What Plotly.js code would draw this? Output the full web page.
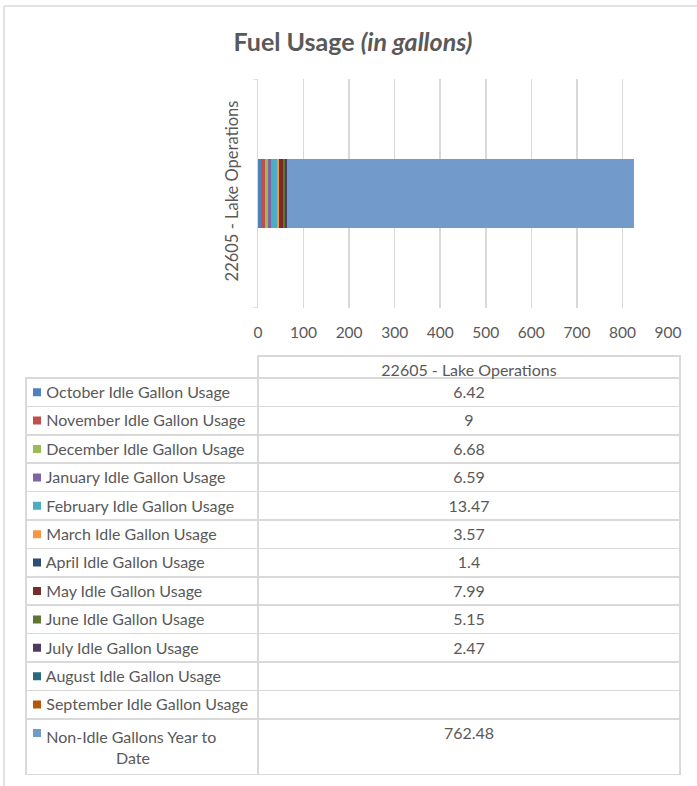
<!DOCTYPE html>
<html>
<head>
<meta charset="utf-8">
<script src="https://cdn.plot.ly/plotly-3.0.1.min.js"></script>
<style>html,body{margin:0;padding:0;background:#fff;}#chart{width:697px;height:786px;}</style>
</head>
<body>
<div id="chart"></div>
<script>
// ---- data ----
const categories = ["22605 - Lake Operations"];
const seriesNames = [
  "October Idle Gallon Usage",
  "November Idle Gallon Usage",
  "December Idle Gallon Usage",
  "January Idle Gallon Usage",
  "February Idle Gallon Usage",
  "March Idle Gallon Usage",
  "April Idle Gallon Usage",
  "May Idle Gallon Usage",
  "June Idle Gallon Usage",
  "July Idle Gallon Usage",
  "August Idle Gallon Usage",
  "September Idle Gallon Usage",
  "Non-Idle Gallons Year to Date"
];
const seriesValues = [6.42, 9, 6.68, 6.59, 13.47, 3.57, 1.4, 7.99, 5.15, 2.47, null, null, 762.48];
const xTickValues = [0, 100, 200, 300, 400, 500, 600, 700, 800, 900];

// ---- styles ----
const seriesColors = ["#4F81BD","#C0504D","#9BBB59","#8064A2","#4BACC6","#F79646",
                      "#2C4D75","#772C2A","#5F7530","#4D3B62","#276A7C","#B65708","#729ACA"];
const W = 697, H = 786;
const FONT = "Lato, 'Open Sans', sans-serif";
const TXT = "#595959";
const GRID = "#d9d9d9";
const NB = "\u00A0";
const ROW = 28.4;
const px = v => v / W;
const py = v => (H - v) / H;

// stacked bars
const traces = seriesNames.map((name, i) => ({
  type: "bar",
  orientation: "h",
  name: name,
  y: categories,
  x: [seriesValues[i]],
  marker: { color: seriesColors[i], line: { width: 0 } },
  hoverinfo: "skip",
  showlegend: false
}));

// legend keys of the data table, one per series row
traces.push({
  type: "scatter",
  mode: "markers",
  xaxis: "x2", yaxis: "y2",
  x: seriesNames.map(() => 0),
  y: seriesNames,
  marker: { symbol: "square", size: 8, color: seriesColors, line: { width: 0 } },
  hoverinfo: "skip",
  showlegend: false
});

// table labels: non-breaking spaces so plotly keeps each on one line
function labelFor(name) {
  const indent = NB.repeat(3);
  if (name === "Non-Idle Gallons Year to Date") {
    return indent + "Non-Idle Gallons Year to".split(" ").join(NB) + "<br>" + NB.repeat(20) + "Date";
  }
  return indent + name.split(" ").join(NB);
}

traces.push({
  type: "table",
  domain: { x: [px(26), px(680)], y: [py(780), py(356)] },
  columnwidth: [232, 422],
  header: {
    values: ["", categories[0]],
    align: ["left", "center"],
    height: 22,
    line: { color: ["rgba(0,0,0,0)", GRID], width: 1.5 },
    fill: { color: "rgba(0,0,0,0)" },
    font: { family: FONT, size: 16, color: TXT }
  },
  cells: {
    values: [
      seriesNames.map(labelFor),
      seriesValues.map(v => (v === null ? "" : String(v)))
    ],
    align: ["left", "center"],
    height: ROW,
    line: { color: GRID, width: 1.5 },
    fill: { color: "rgba(0,0,0,0)" },
    font: { family: FONT, size: 16, color: TXT }
  }
});

const layout = {
  width: W, height: H,
  margin: { l: 0, r: 0, t: 0, b: 0 },
  paper_bgcolor: "#ffffff",
  plot_bgcolor: "rgba(0,0,0,0)",
  barmode: "stack",
  bargap: 0.703,
  hovermode: false,
  font: { family: FONT, color: TXT },
  title: {
    text: "<b>Fuel Usage <i>(in gallons)</i></b>",
    font: { family: FONT, size: 25, color: TXT },
    x: px(353), xanchor: "center",
    y: py(42), yanchor: "middle"
  },
  xaxis: {
    domain: [px(258), px(668)],
    range: [0, 900],
    tickvals: xTickValues,
    ticktext: xTickValues.map(String),
    showgrid: true,
    gridcolor: GRID,
    gridwidth: 1.5,
    zeroline: false,
    showline: false,
    ticks: "",
    tickfont: { family: FONT, size: 15.5, color: TXT },
    ticklabelstandoff: 13,
    anchor: "y",
    fixedrange: true
  },
  yaxis: {
    domain: [py(308), py(79)],
    type: "category",
    range: [-0.5, 0.5],
    tickangle: -90,
    tickfont: { family: FONT, size: 16.5, color: TXT },
    showline: true,
    linecolor: GRID,
    linewidth: 1.5,
    ticks: "",
    showgrid: false,
    zeroline: false,
    ticklabelstandoff: 12,
    anchor: "x",
    fixedrange: true
  },
  // hidden axes that place the legend keys in the table's label column
  xaxis2: {
    domain: [px(26), px(258)],
    range: [-11, 221],
    visible: false,
    anchor: "y2",
    fixedrange: true
  },
  yaxis2: {
    domain: [py(378 + 13 * ROW), py(378)],
    type: "category",
    categoryorder: "array",
    categoryarray: seriesNames,
    range: [seriesNames.length - 0.5, -0.5],
    visible: false,
    anchor: "x2",
    fixedrange: true
  },
  shapes: [
    // chart area border
    { type: "line", xref: "paper", yref: "paper", x0: px(4), x1: px(4), y0: 0, y1: py(6), line: { color: GRID, width: 1.5 } },
    { type: "line", xref: "paper", yref: "paper", x0: px(4), x1: 1, y0: py(6), y1: py(6), line: { color: GRID, width: 1.5 } },
    // category boundary tick marks
    { type: "line", xref: "paper", yref: "y", x0: px(253), x1: px(258), y0: 0.5, y1: 0.5, line: { color: GRID, width: 1.5 } },
    { type: "line", xref: "paper", yref: "y", x0: px(253), x1: px(258), y0: -0.5, y1: -0.5, line: { color: GRID, width: 1.5 } }
  ]
};

Plotly.newPlot("chart", traces, layout, { displayModeBar: false, staticPlot: true });
</script>
</body>
</html>
